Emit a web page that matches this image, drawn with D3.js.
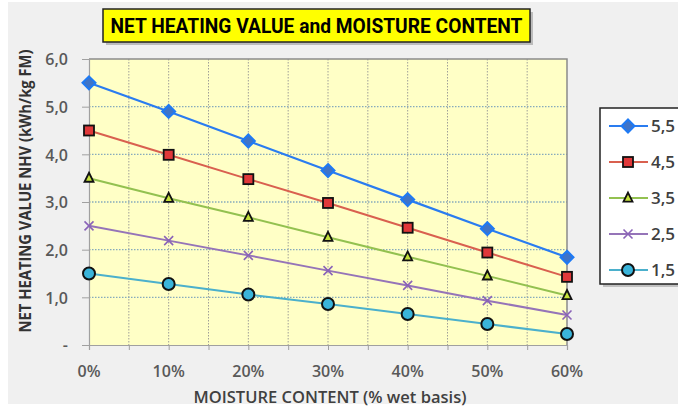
<!DOCTYPE html>
<html><head><meta charset="utf-8">
<script src="https://cdn.jsdelivr.net/npm/d3@7"></script>
<style>body{margin:0;background:#fff;}svg{display:block;}</style>
</head><body>
<svg id="c" width="678" height="409"></svg>
<script>
const moisture = [0, 10, 20, 30, 40, 50, 60];
const seriesNames = ["5,5", "4,5", "3,5", "2,5", "1,5"];
const s55 = [5.50, 4.90, 4.28, 3.66, 3.05, 2.44, 1.84];
const s45 = [4.50, 3.99, 3.48, 2.98, 2.46, 1.94, 1.43];
const s35 = [3.50, 3.08, 2.68, 2.26, 1.85, 1.45, 1.04];
const s25 = [2.50, 2.19, 1.88, 1.56, 1.25, 0.93, 0.63];
const s15 = [1.50, 1.28, 1.06, 0.86, 0.65, 0.44, 0.23];
const yTicks = [0, 1, 2, 3, 4, 5, 6];
const yTickLabels = ["-", "1,0", "2,0", "3,0", "4,0", "5,0", "6,0"];
const xTickLabels = ["0%", "10%", "20%", "30%", "40%", "50%", "60%"];
const title = "NET HEATING VALUE and MOISTURE CONTENT";
const yTitle = "NET HEATING  VALUE NHV (kWh/kg FM)";
const xTitle = "MOISTURE CONTENT (% wet basis)";

const styles = [
  {line:"#2a7cf0", fill:"#3f74c8", stroke:"#1e7af5", shape:"diamond", size:13, lw:2.2},
  {line:"#d9604f", fill:"#e0383a", stroke:"#111", shape:"square", size:10, lw:2},
  {line:"#93c150", fill:"#c6e23c", stroke:"#111", shape:"triangle", size:9, lw:2},
  {line:"#9574b8", fill:"none", stroke:"#8a63b8", shape:"x", size:9, lw:2},
  {line:"#4bb0cc", fill:"#3ab4da", stroke:"#111", shape:"circle", size:12, lw:2}
];
const data = [s55, s45, s35, s25, s15];

const svg = d3.select("#c");
const font = "'Open Sans', 'DejaVu Sans', sans-serif";

svg.append("rect").attr("x", 8).attr("y", 2).attr("width", 670).attr("height", 402).attr("fill", "#f0f0f0");

const L = 89, R = 567, T = 59, B = 345;
const x = d3.scaleLinear().domain([0, 60]).range([L, R]);
const y = d3.scaleLinear().domain([0, 6]).range([B, T]);

svg.append("rect").attr("x", L).attr("y", T).attr("width", R - L).attr("height", B - T).attr("fill", "#ffffc6");

const xGrid = d3.range(5, 60, 5);
svg.append("g").selectAll("line").data(xGrid).join("line")
  .attr("x1", d => x(d)).attr("x2", d => x(d)).attr("y1", T).attr("y2", B)
  .attr("stroke", "#a0a098").attr("stroke-width", 1).attr("stroke-dasharray", "1.5,1.5");
svg.append("g").selectAll("line").data(yTicks.filter(d => d > 0 && d < 6)).join("line")
  .attr("x1", L).attr("x2", R).attr("y1", d => y(d)).attr("y2", d => y(d))
  .attr("stroke", "#86aabc").attr("stroke-width", 1.3).attr("stroke-dasharray", "1.5,1.5");

svg.append("path").attr("d", `M${L},${T}H${R}V${B}`).attr("fill", "none").attr("stroke", "#8a8a8a").attr("stroke-width", 1.5);

const xAxis = d3.axisBottom(x).tickValues(d3.range(0, 61, 5)).tickSize(5).tickFormat("");
const gx = svg.append("g").attr("transform", `translate(0,${B})`).call(xAxis);
gx.select(".domain").attr("stroke", "#a0a0a0").attr("stroke-width", 1.2);
gx.selectAll(".tick line").attr("stroke", "#a0a0a0");
svg.append("g").selectAll("text").data(moisture).join("text")
  .attr("x", d => x(d)).attr("y", 377).attr("text-anchor", "middle")
  .attr("font-family", font).attr("font-weight", "600").attr("font-size", 16).attr("fill", "#595959")
  .text((d, i) => xTickLabels[i]);

const yAxis = d3.axisLeft(y).tickValues(yTicks).tickSize(7).tickFormat((d, i) => yTickLabels[i]);
const gy = svg.append("g").attr("transform", `translate(${L},0)`).call(yAxis);
gy.select(".domain").attr("stroke", "#a0a0a0").attr("stroke-width", 1.2);
gy.selectAll(".tick line").attr("stroke", "#a0a0a0");
gy.selectAll(".tick text").attr("font-family", font).attr("font-weight", "600").attr("font-size", 16).attr("fill", "#595959")
  .attr("x", -21).attr("dy", "0.36em");

svg.append("text").attr("transform", "translate(31,191) rotate(-90)")
  .attr("text-anchor", "middle").attr("font-family", font).attr("font-weight", "bold")
  .attr("font-size", 16).attr("fill", "#333").attr("textLength", 283).attr("lengthAdjust", "spacingAndGlyphs")
  .text(yTitle);
svg.append("text").attr("x", 330).attr("y", 403).attr("text-anchor", "middle")
  .attr("font-family", font).attr("font-weight", "600").attr("font-size", 16).attr("fill", "#404040")
  .attr("textLength", 273).attr("lengthAdjust", "spacingAndGlyphs").text(xTitle);

svg.append("rect").attr("x", 106).attr("y", 12).attr("width", 427).attr("height", 33).attr("fill", "#9a9a9a").attr("opacity", 0.6);
svg.append("rect").attr("x", 103).attr("y", 9).attr("width", 427).attr("height", 33).attr("fill", "#ffff00").attr("stroke", "#222").attr("stroke-width", 1.5);
svg.append("text").attr("x", 316.5).attr("y", 33).attr("text-anchor", "middle")
  .attr("font-family", "'Liberation Sans Narrow', 'Roboto', sans-serif").attr("font-weight", "bold")
  .attr("font-size", 20).attr("fill", "#000").attr("textLength", 412).attr("lengthAdjust", "spacingAndGlyphs")
  .text(title);

function marker(g, st, cx, cy) {
  const s = st.size;
  if (st.shape === "diamond") {
    g.append("path").attr("d", `M${cx},${cy - s/2}L${cx + s/2},${cy}L${cx},${cy + s/2}L${cx - s/2},${cy}Z`)
      .attr("fill", st.fill).attr("stroke", st.stroke).attr("stroke-width", 2);
  } else if (st.shape === "square") {
    g.append("rect").attr("x", cx - s/2).attr("y", cy - s/2).attr("width", s).attr("height", s)
      .attr("fill", st.fill).attr("stroke", st.stroke).attr("stroke-width", 1.8);
  } else if (st.shape === "triangle") {
    g.append("path").attr("d", `M${cx},${cy - s*0.6}L${cx + s/2},${cy + s*0.4}L${cx - s/2},${cy + s*0.4}Z`)
      .attr("fill", st.fill).attr("stroke", st.stroke).attr("stroke-width", 1.8);
  } else if (st.shape === "x") {
    const h = s/2;
    g.append("path").attr("d", `M${cx - h},${cy - h}L${cx + h},${cy + h}M${cx - h},${cy + h}L${cx + h},${cy - h}`)
      .attr("stroke", st.stroke).attr("stroke-width", 1.6);
  } else {
    g.append("circle").attr("cx", cx).attr("cy", cy).attr("r", s/2)
      .attr("fill", st.fill).attr("stroke", st.stroke).attr("stroke-width", 2);
  }
}

const line = d3.line().x((d, i) => x(moisture[i])).y(d => y(d));
for (let k = data.length - 1; k >= 0; k--) {
  const g = svg.append("g");
  g.append("path").attr("d", line(data[k])).attr("fill", "none").attr("stroke", styles[k].line).attr("stroke-width", styles[k].lw);
  data[k].forEach((v, i) => marker(g, styles[k], x(moisture[i]), y(v)));
}

svg.append("rect").attr("x", 603).attr("y", 111).attr("width", 80).attr("height", 176).attr("fill", "#a0a0a0").attr("opacity", 0.6);
svg.append("rect").attr("x", 600).attr("y", 108).attr("width", 85).attr("height", 176).attr("fill", "#fff").attr("stroke", "#222").attr("stroke-width", 1.5);
seriesNames.forEach((n, k) => {
  const ly = 126 + k * 36;
  const g = svg.append("g");
  g.append("line").attr("x1", 609).attr("x2", 648).attr("y1", ly).attr("y2", ly).attr("stroke", styles[k].line).attr("stroke-width", styles[k].lw);
  marker(g, styles[k], 628, ly);
  g.append("text").attr("x", 651).attr("y", ly).attr("dy", "0.36em")
    .attr("font-family", font).attr("font-weight", "600").attr("font-size", 17).attr("fill", "#404040").text(n);
});
</script>
</body></html>
